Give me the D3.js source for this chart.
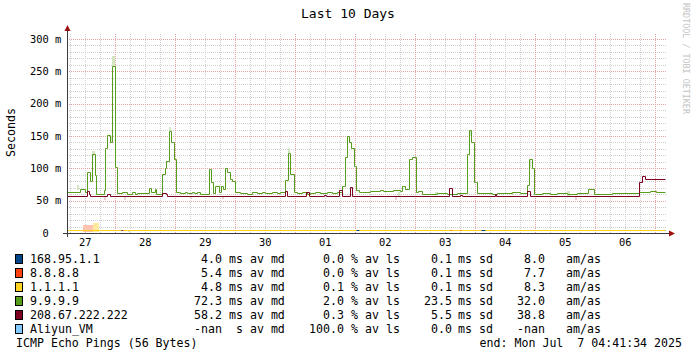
<!DOCTYPE html>
<html><head><meta charset="utf-8">
<script src="https://cdn.jsdelivr.net/npm/d3@7"></script>
<style>
body{margin:0;background:#fff}
svg{display:block}
text{font-family:"DejaVu Sans Mono",monospace;white-space:pre}
</style>
</head><body>
<svg id="c" width="697" height="357"></svg>
<script>
// ---------------- data ----------------
const title = "Last 10 Days";
const yAxisTitle = "Seconds";
const watermark = "RRDTOOL / TOBI OETIKER";
const footerLeft = "ICMP Echo Pings (56 Bytes)";
const footerRight = "end: Mon Jul  7 04:41:34 2025";
const endTime = new Date(2025, 6, 7, 4, 41, 34);
const spanHours = 240;
const lastHour = 239.2;

const yTicks = [0, 50, 100, 150, 200, 250, 300];
const yTickLabels = ["  0  ", " 50 m", "100 m", "150 m", "200 m", "250 m", "300 m"];
const dayLabels = ["27", "28", "29", "30", "01", "02", "03", "04", "05", "06"];

const targets = ["168.95.1.1", "8.8.8.8", "1.1.1.1", "9.9.9.9", "208.67.222.222", "Aliyun_VM"];
const colors = ["#004586", "#ff420e", "#ffd320", "#579d1c", "#7e0021", "#83caff"];
const avMd = [4.0, 5.4, 4.8, 72.3, 58.2, NaN];
const avMdUnit = ["m", "m", "m", "m", "m", " "];
const avLs = [0.0, 0.0, 0.1, 2.0, 0.3, 100.0];
const sdMs = [0.1, 0.1, 0.1, 23.5, 5.5, 0.0];
const amAs = [8.0, 7.7, 8.3, 32.0, 38.8, NaN];

// median series as step change points: hours from start, value in ms (null = no data)
const blueT = [0];
const blueV = [4.0];
const redT = [0, 21, 22, 73, 73.5, 95, 95.5, 115.2, 116.8, 165.2, 167.2, 192.2, 192.7, 217, 217.5, 236];
const redV = [5.4, null, 5.4, null, 5.4, null, 5.4, null, 5.4, null, 5.4, null, 5.4, null, 5.4, null];
const yellowT = [0, 21.5, 22.2, 115.4, 117.0, 153.1, 153.5, 157.1, 157.5, 165.6, 167.0];
const yellowV = [4.8, null, 4.8, null, 4.8, null, 4.8, null, 4.8, null, 4.8];
const greenT = [0, 5.3, 7.3, 8, 9, 10, 11, 11.7, 14.7, 15.3, 16, 17, 18, 19, 20, 22, 24, 26, 27, 28,
  32.7, 33.6, 35, 35.7, 38, 39, 39.7, 40.7, 41.6, 42.7, 43.6, 45, 47, 48, 50, 51, 52, 53,
  56.7, 57.6, 58.4, 59.3, 60.7, 61.6, 62.4, 63.3, 64, 65, 66, 67.2, 69, 72, 74, 76, 78, 79, 82, 84, 85,
  87.3, 88.3, 89.3, 90.7, 92, 94, 96, 97, 99, 101, 104, 106, 108,
  110, 111, 112, 112.7, 113.6, 114.7, 115.6, 116.7, 118, 121.2, 125.2, 126.5, 130.5, 133.2, 133.9, 135.2,
  136.9, 137.9, 139.6, 140.5, 141.9, 148, 152, 156, 159.9, 160.8, 161.6, 162.8, 163.9, 170, 172, 178, 181,
  183.9, 184.8, 185.9, 186.9, 190, 193, 196, 200, 204, 208.5, 210.9, 218, 228.9, 233.2, 235.6];
const greenV = [64, 68, 64, 95, 80, 122, 90, 61, 66, 131, 152, 141, 258, 102, 62, 63, 61, 63, 61, 62,
  70, 64, 68, 61, 92, 101, 111, 158, 140, 115, 63, 62, 63, 62, 64, 62, 63, 61,
  99, 79, 62, 72, 63, 73, 68, 101, 95, 83, 80, 63, 62, 61, 63, 62, 64, 62, 63, 62, 63,
  82, 123, 91, 64, 62, 63, 61, 62, 63, 62, 63, 62, 63,
  73, 118, 150, 141, 131, 104, 66, 63, 64, 65, 67, 65, 67, 65, 72, 68,
  115, 118, 64, 65, 61, 62, 61, 62, 122, 160, 141, 79, 62, 61, 62, 63, 62,
  74, 114, 101, 61, 62, 61, 62, 61, 62, 68, 61, 62, 64, 65, 64];
const darkT = [0, 7.8, 8.7, 9.3, 15.9, 17.2, 37.9, 39.4, 40, 87, 87.9, 95.6, 96.9, 102.8, 103.4,
  108.9, 109.9, 113, 114, 152.9, 153.9, 157, 157.9, 171, 171.6, 183.9, 185, 228.9, 229.9, 231.2];
const darkV = [57, 65, 61, 57, 60, 57, 62, 60, 57, 65, 57, 64, 57, 59, 57,
  66, 57, 71, 57, 69, 57, 59, 57, 61, 57, 65, 57, 79, 88, 83];

// faint smoke patches: [target index, hour from, hour to, low ms, high ms]
const smoke = [
  [3, 3.8, 4.6, 68, 75], [3, 10, 11, 122, 127], [3, 17, 18, 141, 150], [3, 18, 19, 258, 273],
  [3, 40.7, 41.6, 158, 164], [3, 60.7, 61.3, 70, 75], [3, 88.3, 89.1, 123, 131],
  [3, 132.5, 133.4, 58, 64], [3, 147.2, 148.2, 58, 63], [3, 160.8, 161.6, 150, 159],
  [3, 177.5, 178.4, 59, 64], [3, 184.8, 185.6, 100, 113], [3, 200, 201, 58, 65],
  [4, 14.6, 15.3, 52, 56], [4, 22.6, 23.2, 51, 56], [4, 49.3, 50, 53, 56], [4, 62.2, 63, 53, 56],
  [4, 131, 131.8, 52, 56], [4, 203, 203.8, 52, 56],
  [1, 6.4, 11.6, 2, 13], [2, 10.2, 12.4, 2, 16], [3, 24.2, 25, 1, 4]
];

// ---------------- drawing ----------------
const svg = d3.select("#c");
const startTime = d3.timeHour.offset(endTime, -spanHours);
const hourToDate = h => new Date(startTime.getTime() + h * 3600e3);

const x = d3.scaleTime().domain([startTime, endTime]).range([67, 667]);
const y = d3.scaleLinear().domain([0, 309.3]).range([233, 33]);
const px = v => Math.round(v) + 0.5;

const gGrid = svg.append("g");
const minorV = d3.timeHour.every(6).range(startTime, endTime).filter(d => d.getHours() !== 0);
const majorV = d3.timeDay.range(startTime, endTime);
gGrid.selectAll(".mv").data(minorV).join("line")
  .attr("x1", d => px(x(d))).attr("x2", d => px(x(d)))
  .attr("y1", 233).attr("y2", 33)
  .attr("stroke", "#cfcfcf").attr("stroke-dasharray", "1,1");
const minorH = d3.range(10, 305, 10).filter(v => v % 50 !== 0);
gGrid.selectAll(".mh").data(minorH).join("line")
  .attr("y1", d => px(y(d))).attr("y2", d => px(y(d)))
  .attr("x1", 67).attr("x2", 667)
  .attr("stroke", "#cfcfcf").attr("stroke-dasharray", "1,1");
gGrid.selectAll(".Mv").data(majorV).join("line")
  .attr("x1", d => px(x(d))).attr("x2", d => px(x(d)))
  .attr("y1", 233).attr("y2", 33)
  .attr("stroke", "#e9a3a3").attr("stroke-dasharray", "1,1");
gGrid.selectAll(".Mh").data(yTicks.filter(v => v > 0)).join("line")
  .attr("y1", d => px(y(d))).attr("y2", d => px(y(d)))
  .attr("x1", 67).attr("x2", 667)
  .attr("stroke", "#e9a3a3").attr("stroke-dasharray", "1,1");

// smoke
const smokeCol = ["#9ab8d6", "#ffc4b0", "#ffeaa0", "#d3e6c2", "#ecd0d6", "#cbe8ff"];
svg.append("g").selectAll("rect").data(smoke).join("rect")
  .attr("x", d => Math.round(x(hourToDate(d[1]))))
  .attr("width", d => Math.max(1, Math.round(x(hourToDate(d[2])) - x(hourToDate(d[1])))))
  .attr("y", d => Math.round(y(d[4])))
  .attr("height", d => Math.max(1, Math.round(y(d[3]) - y(d[4]))))
  .attr("fill", d => smokeCol[d[0]]);

// lines
function series(T, V) {
  const pts = [];
  T.forEach((t, i) => {
    if (V[i] === null && i > 0 && V[i - 1] !== null) pts.push({ t: hourToDate(t), v: V[i - 1] });
    pts.push({ t: hourToDate(t), v: V[i] });
  });
  if (V[V.length - 1] !== null) pts.push({ t: hourToDate(lastHour), v: V[V.length - 1] });
  return pts;
}
const allSeries = [
  [blueT, blueV], [redT, redV], [yellowT, yellowV], [greenT, greenV], [darkT, darkV]
];
const line = d3.line().curve(d3.curveStepAfter)
  .defined(d => d.v !== null)
  .x(d => px(x(d.t))).y(d => px(y(d.v)));
const gLines = svg.append("g");
allSeries.forEach((s, i) => {
  gLines.append("path").datum(series(s[0], s[1]))
    .attr("d", line).attr("fill", "none")
    .attr("stroke", colors[i]).attr("stroke-width", 1);
});

// axes
const axisCol = "#3a3a3a";
svg.append("line").attr("x1", 63).attr("x2", 670).attr("y1", 233.5).attr("y2", 233.5).attr("stroke", axisCol);
svg.append("line").attr("x1", 67.5).attr("x2", 67.5).attr("y1", 237).attr("y2", 30).attr("stroke", axisCol);
svg.append("path").attr("d", "M669,230.5L675,233.5L669,236.5Z").attr("fill", "#9b1010");
svg.append("path").attr("d", "M64.5,31L67.5,25L70.5,31Z").attr("fill", "#9b1010");

// y labels
svg.append("g").selectAll("text").data(yTicks).join("text")
  .attr("x", 30).attr("y", d => y(d) + 3.6)
  .attr("font-size", 10.4).attr("fill", "#000")
  .text((d, i) => yTickLabels[i]);

// x labels at noon of each day
svg.append("g").selectAll("text").data(dayLabels).join("text")
  .attr("x", (d, i) => x(d3.timeHour.offset(d3.timeDay.floor(startTime), 12 + 24 * i)))
  .attr("y", 246).attr("text-anchor", "middle")
  .attr("font-size", 10.4).attr("fill", "#000")
  .text(d => d);

// title, axis title, watermark
svg.append("text").attr("x", 348).attr("y", 18).attr("text-anchor", "middle")
  .attr("font-size", 13).attr("fill", "#000").text(title);
svg.append("text").attr("transform", "translate(15,132.5) rotate(-90)")
  .attr("text-anchor", "middle").attr("font-size", 11.6).attr("fill", "#000").text(yAxisTitle);
svg.append("text").attr("transform", "translate(683,3) rotate(90)")
  .attr("font-size", 8.4).attr("fill", "#c4c4c4").text(watermark);

// legend
const fmt = v => isNaN(v) ? "-nan" : v.toFixed(1);
const lg = svg.append("g").attr("font-size", 11.6).attr("fill", "#000");
targets.forEach((name, i) => {
  const cy = 259 + i * 14, by = cy + 4.2;
  lg.append("rect").attr("x", 15.5).attr("y", cy - 4.5).attr("width", 7).attr("height", 9)
    .attr("fill", colors[i]).attr("stroke", "#000").attr("stroke-width", 1);
  lg.append("text").attr("x", 30).attr("y", by).text(name);
  lg.append("text").attr("x", 222).attr("y", by).attr("text-anchor", "end").text(fmt(avMd[i]));
  lg.append("text").attr("x", 229).attr("y", by).text(avMdUnit[i] + "s av md");
  lg.append("text").attr("x", 344).attr("y", by).attr("text-anchor", "end").text(fmt(avLs[i]));
  lg.append("text").attr("x", 351).attr("y", by).text("% av ls");
  lg.append("text").attr("x", 452).attr("y", by).attr("text-anchor", "end").text(fmt(sdMs[i]));
  lg.append("text").attr("x", 458).attr("y", by).text("ms sd");
  lg.append("text").attr("x", 545).attr("y", by).attr("text-anchor", "end").text(fmt(amAs[i]));
  lg.append("text").attr("x", 566).attr("y", by).text("am/as");
});
lg.append("text").attr("x", 16).attr("y", 343 + 4.2).text(footerLeft);
lg.append("text").attr("x", 682).attr("y", 343 + 4.2).attr("text-anchor", "end").text(footerRight);
</script>
</body></html>
